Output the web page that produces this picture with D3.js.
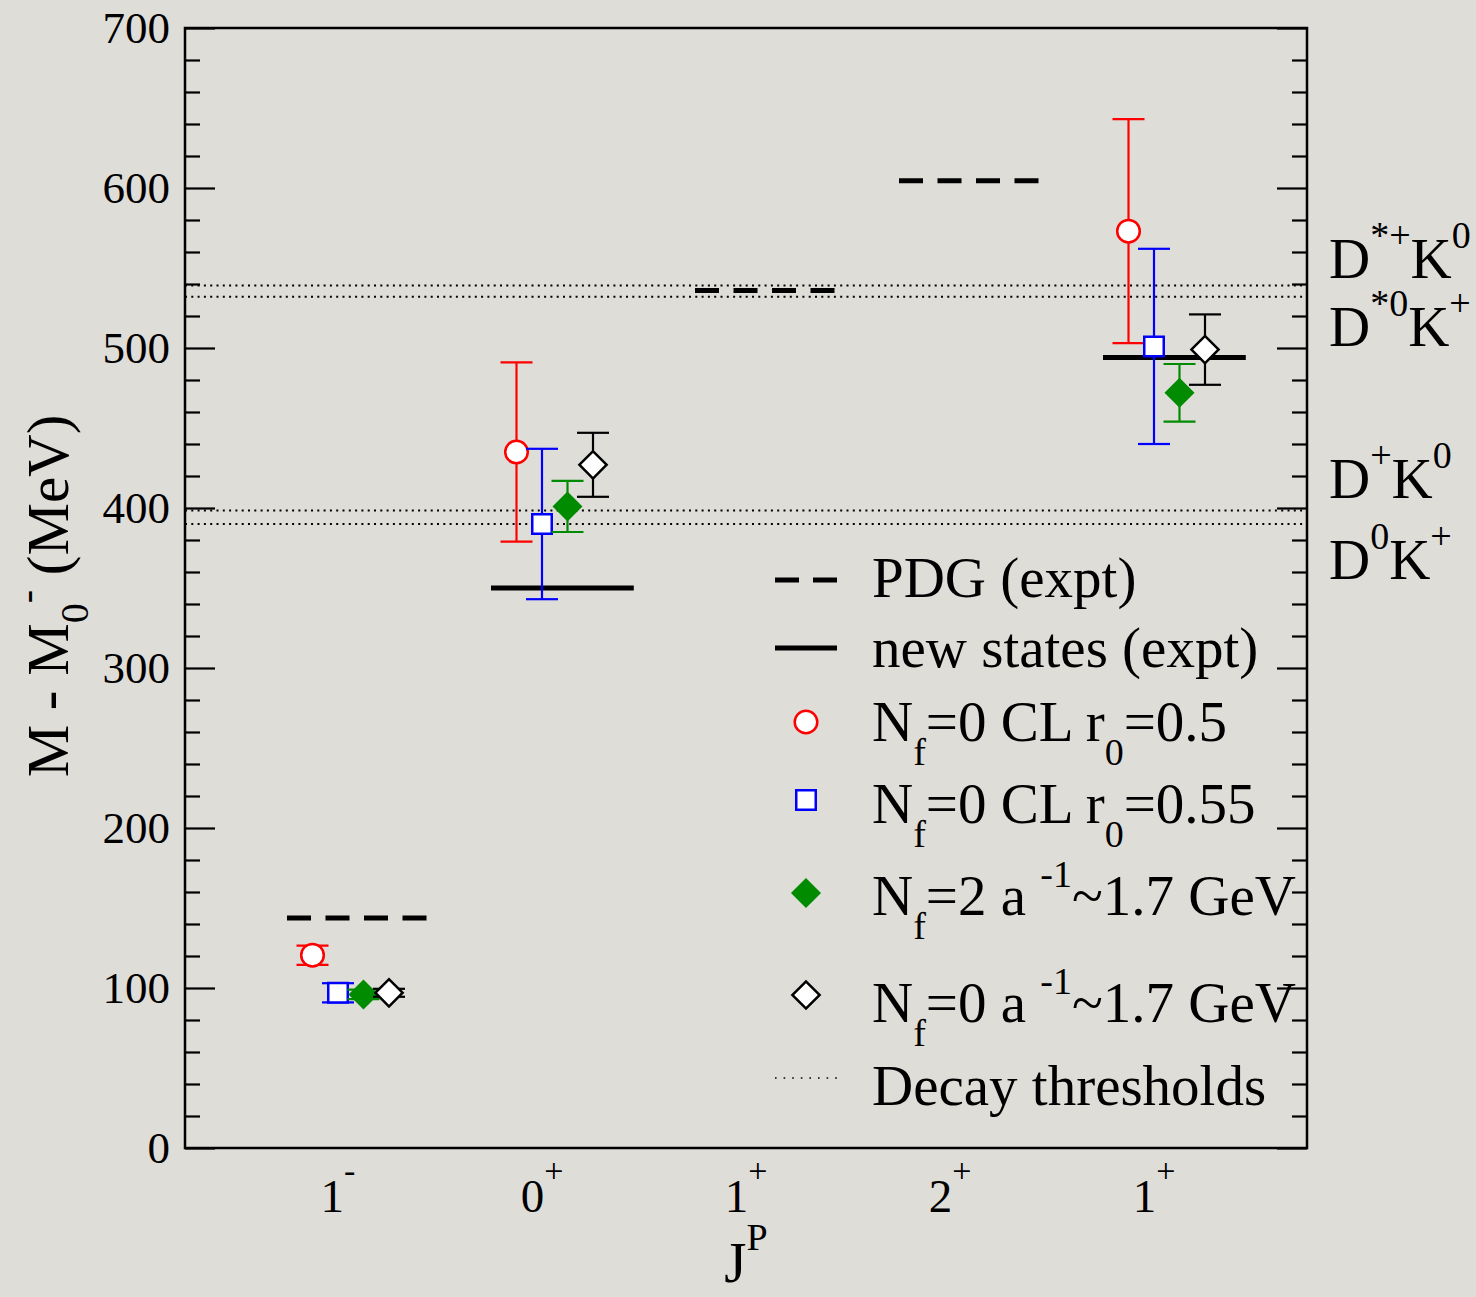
<!DOCTYPE html>
<html>
<head>
<meta charset="utf-8">
<script src="https://cdn.jsdelivr.net/npm/d3@7"></script>
<style>
  body { margin: 0; background: #dfddd8; }
  svg { display: block; font-family: "Liberation Serif", "Times New Roman", serif; }
  text { white-space: pre; }
</style>
</head>
<body>
<svg id="chart"></svg>
<script>
// J^P categories, drawn at x = 1..5
const tickBase = ["1", "0", "1", "2", "1"];
const tickSup = ["-", "+", "+", "+", "+"];

// experimental levels, MeV above the 0- state
const pdgX = [1, 3, 4];
const pdgValue = [143.8, 536, 604.5];
const newX = [2, 5];
const newValue = [350, 494];

// decay thresholds D*+K0, D*0K+, D+K0, D0K+
const thresholds = [539, 532, 398.5, 390];

// lattice results at categories 1-, 0+, 1+
const latticeX = [1, 2, 5];
const clR05 = [120.5, 435, 573];
const clR05Err = [6, 56, 70];
const clR055 = [97, 390, 501];
const clR055Err = [6, 47, 61];
const nf2 = [96, 401, 472];
const nf2Err = [3, 16, 18];
const nf0 = [97, 427, 499];
const nf0Err = [2.5, 20, 22];

width = 1476;
height = 1297;
margin = ({ top: 28, right: 169, bottom: 149, left: 185 });

const svg = d3.select("#chart").attr("width", width).attr("height", height);

svg.append("rect")
  .attr("width", width)
  .attr("height", height)
  .attr("fill", "#dfddd8");

x = d3.scaleLinear()
  .domain([0.25, 5.75])
  .range([margin.left, width - margin.right])

y = d3.scaleLinear()
  .domain([0, 700])
  .range([height - margin.bottom, margin.top])

const bigFont = 57;
const smallFont = 38;

// text with sub/superscripts: parts = [[text, "sub"|"sup"|null], ...]
const richText = (sel, parts, size, small, sub, sup) => {
  let shift = 0;
  parts.forEach(([txt, kind]) => {
    const target = kind === "sub" ? sub : kind === "sup" ? -sup : 0;
    sel.append("tspan")
      .attr("dy", target - shift)
      .attr("font-size", kind ? small : size)
      .text(txt);
    shift = target;
  });
};

////////// thresholds //////////
svg.append("g")
  .selectAll("line")
  .data(thresholds)
  .join("line")
  .attr("x1", x.range()[0])
  .attr("x2", x.range()[1])
  .attr("y1", d => y(d))
  .attr("y2", d => y(d))
  .attr("stroke", "#000")
  .attr("stroke-width", 2)
  .attr("stroke-dasharray", "2,4.3");

////////// experiment //////////
svg.append("g")
  .selectAll("line")
  .data(pdgX.map((c, i) => ({ c, v: pdgValue[i] })))
  .join("line")
  .attr("x1", d => x(d.c - 0.25))
  .attr("x2", d => x(d.c + 0.45))
  .attr("y1", d => y(d.v))
  .attr("y2", d => y(d.v))
  .attr("stroke", "#000")
  .attr("stroke-width", 5)
  .attr("stroke-dasharray", "24,14.5");

svg.append("g")
  .selectAll("line")
  .data(newX.map((c, i) => ({ c, v: newValue[i] })))
  .join("line")
  .attr("x1", d => x(d.c - 0.25))
  .attr("x2", d => x(d.c + 0.45))
  .attr("y1", d => y(d.v))
  .attr("y2", d => y(d.v))
  .attr("stroke", "#000")
  .attr("stroke-width", 5);

////////// lattice //////////
const diamond = d3.symbol().type(d3.symbolSquare).size(370);
const series = [
  { values: clR05, errs: clR05Err, shift: -0.125, color: "#ff0000", fill: "#fff", shape: d3.symbol().type(d3.symbolCircle).size(400)(), rot: 0, sw: 2.5 },
  { values: clR055, errs: clR055Err, shift: 0, color: "#0000ff", fill: "#fff", shape: d3.symbol().type(d3.symbolSquare).size(380)(), rot: 0, sw: 2.5 },
  { values: nf2, errs: nf2Err, shift: 0.125, color: "#008b00", fill: "#008b00", shape: diamond(), rot: 45, sw: 2 },
  { values: nf0, errs: nf0Err, shift: 0.25, color: "#000", fill: "#fff", shape: diamond(), rot: 45, sw: 2.5 }
];

const capHalf = 16;

series.forEach(s => {
  const pts = latticeX.map((c, i) => ({ c: c + s.shift, v: s.values[i], e: s.errs[i] }));
  const g = svg.append("g").attr("stroke", s.color).attr("stroke-width", 2.2);

  g.selectAll(".bar")
    .data(pts)
    .join("line")
    .attr("class", "bar")
    .attr("x1", d => x(d.c))
    .attr("x2", d => x(d.c))
    .attr("y1", d => y(d.v - d.e))
    .attr("y2", d => y(d.v + d.e));

  g.selectAll(".cap")
    .data(pts.flatMap(d => [{ c: d.c, v: d.v - d.e }, { c: d.c, v: d.v + d.e }]))
    .join("line")
    .attr("class", "cap")
    .attr("x1", d => x(d.c) - capHalf)
    .attr("x2", d => x(d.c) + capHalf)
    .attr("y1", d => y(d.v))
    .attr("y2", d => y(d.v));

  g.selectAll(".mark")
    .data(pts)
    .join("path")
    .attr("class", "mark")
    .attr("d", s.shape)
    .attr("transform", d => `translate(${x(d.c)},${y(d.v)}) rotate(${s.rot})`)
    .attr("fill", s.fill)
    .attr("stroke-width", s.sw);
});

////////// axes //////////
svg.append("rect")
  .attr("x", x.range()[0])
  .attr("y", y.range()[1])
  .attr("width", x.range()[1] - x.range()[0])
  .attr("height", y.range()[0] - y.range()[1])
  .attr("fill", "none")
  .attr("stroke", "#000")
  .attr("stroke-width", 2.5);

const minor = d3.range(0, 701, 20);
const major = d3.range(0, 701, 100);

yAxis = g => g
  .attr("transform", `translate(${x.range()[0]},0)`)
  .call(d3.axisLeft(y).tickValues(major).tickSize(-30).tickPadding(15))
  .call(g => g.select(".domain").remove())
  .call(g => g.selectAll("line").attr("stroke-width", 2.2))
  .call(g => g.selectAll("text")
    .attr("font-size", 45)
    .attr("font-family", "Liberation Serif")
    .attr("fill", "#000"))

minorAxis = (g, axis) => g
  .call(axis.tickValues(minor.filter(v => v % 100)).tickSize(-15).tickFormat(""))
  .call(g => g.select(".domain").remove())
  .call(g => g.selectAll("line").attr("stroke-width", 2.2))

svg.append("g").call(yAxis);

svg.append("g")
  .attr("transform", `translate(${x.range()[0]},0)`)
  .call(g => minorAxis(g, d3.axisLeft(y)));

svg.append("g")
  .attr("transform", `translate(${x.range()[1]},0)`)
  .call(d3.axisRight(y).tickValues(major).tickSize(-30).tickFormat(""))
  .call(g => g.select(".domain").remove())
  .call(g => g.selectAll("line").attr("stroke-width", 2.2));

svg.append("g")
  .attr("transform", `translate(${x.range()[1]},0)`)
  .call(g => minorAxis(g, d3.axisRight(y)));

// x tick labels with superscript parity
svg.append("g")
  .selectAll("text")
  .data(tickBase.map((b, i) => ({ b, s: tickSup[i], c: i + 1 })))
  .join("text")
  .attr("x", d => x(d.c))
  .attr("y", 1212)
  .attr("text-anchor", "middle")
  .each(function (d) {
    richText(d3.select(this), [[d.b, null], [d.s, "sup"]], 47, 34, 0, 30);
  });

// axis titles
svg.append("text")
  .attr("x", x(3))
  .attr("y", 1282)
  .attr("text-anchor", "middle")
  .call(t => richText(t, [["J", null], ["P", "sup"]], 57, 38, 0, 32));

svg.append("text")
  .attr("transform", `translate(68,${y(345)}) rotate(-90)`)
  .attr("text-anchor", "middle")
  .call(t => richText(t, [["M - M", null], ["0", "sub"], ["-", "sup"], [" (MeV)", null]], 59, 40, 20, 28));

////////// threshold labels //////////
const thresholdLabels = [
  [["D", null], ["*+", "sup"], ["K", null], ["0", "sup"]],
  [["D", null], ["*0", "sup"], ["K", null], ["+", "sup"]],
  [["D", null], ["+", "sup"], ["K", null], ["0", "sup"]],
  [["D", null], ["0", "sup"], ["K", null], ["+", "sup"]]
];
const labelBaseline = [278, 346, 498, 579];

thresholdLabels.forEach((parts, i) => {
  svg.append("text")
    .attr("x", 1329)
    .attr("y", labelBaseline[i])
    .call(t => richText(t, parts, bigFont, smallFont, 0, 30));
});

////////// legend //////////
const legendText = [
  [["PDG (expt)", null]],
  [["new states (expt)", null]],
  [["N", null], ["f", "sub"], ["=0 CL r", null], ["0", "sub"], ["=0.5", null]],
  [["N", null], ["f", "sub"], ["=0 CL r", null], ["0", "sub"], ["=0.55", null]],
  [["N", null], ["f", "sub"], ["=2 a ", null], ["-1", "sup"], ["~1.7 GeV", null]],
  [["N", null], ["f", "sub"], ["=0 a ", null], ["-1", "sup"], ["~1.7 GeV", null]],
  [["Decay thresholds", null]]
];
const legendMark = [580, 648, 722, 800, 893, 995, 1078];
const legendBase = [597, 667, 741, 823, 915, 1022, 1105];
const legendX = 806;

const legend = svg.append("g");

legend.append("line")
  .attr("x1", legendX - 31).attr("x2", legendX + 31)
  .attr("y1", legendMark[0]).attr("y2", legendMark[0])
  .attr("stroke", "#000").attr("stroke-width", 5)
  .attr("stroke-dasharray", "24,14");

legend.append("line")
  .attr("x1", legendX - 31).attr("x2", legendX + 31)
  .attr("y1", legendMark[1]).attr("y2", legendMark[1])
  .attr("stroke", "#000").attr("stroke-width", 5);

series.forEach((s, i) => {
  legend.append("path")
    .attr("d", s.shape)
    .attr("transform", `translate(${legendX},${legendMark[i + 2]}) rotate(${s.rot})`)
    .attr("fill", s.fill)
    .attr("stroke", s.color)
    .attr("stroke-width", s.sw);
});

legend.append("line")
  .attr("x1", legendX - 31).attr("x2", legendX + 31)
  .attr("y1", legendMark[6]).attr("y2", legendMark[6])
  .attr("stroke", "#000").attr("stroke-width", 1.6)
  .attr("stroke-dasharray", "1.6,7");

legendText.forEach((parts, i) => {
  legend.append("text")
    .attr("x", 872)
    .attr("y", legendBase[i])
    .call(t => richText(t, parts, bigFont, smallFont, 24, 28));
});
</script>
</body>
</html>
